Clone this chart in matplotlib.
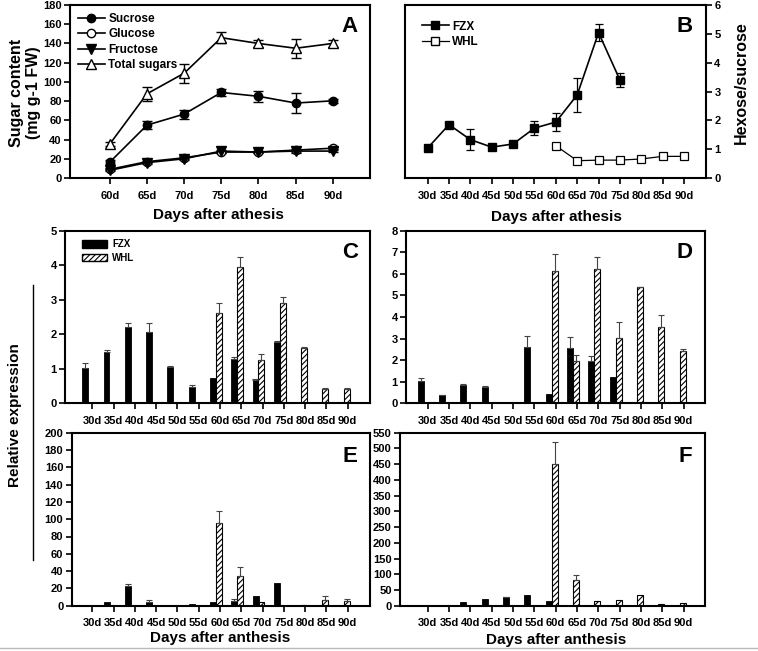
import matplotlib
matplotlib.use('Agg')
import matplotlib.pyplot as plt
import numpy as np
from matplotlib.lines import Line2D
from matplotlib.patches import Patch

plt.rcParams['font.family'] = ['Liberation Sans', 'DejaVu Sans']
plt.rcParams['font.weight'] = 'bold'
plt.rcParams['hatch.linewidth'] = 0.8

# ---------------- data ----------------
days_A = ['60d', '65d', '70d', '75d', '80d', '85d', '90d']
sucrose = [16.5, 55, 66.5, 89, 85, 78, 80.3]
sucrose_err = [2, 4, 4.7, 3.5, 6, 10, 2]
glucose = [9, 17, 21, 27, 27, 29, 31]
glucose_err = [1, 1, 1.5, 1.5, 1.5, 1.5, 1]
fructose = [8, 16, 20, 28, 27, 28, 28]
fructose_err = [1, 1, 1.5, 1.5, 1.5, 1.5, 1]
total = [35.3, 87.6, 109, 146, 140, 135, 140]
total_err = [2, 7, 10, 5.7, 3.8, 10, 3.5]

days = ['30d', '35d', '40d', '45d', '50d', '55d', '60d', '65d', '70d', '75d', '80d', '85d', '90d']
ratio_fzx = [1.04, 1.85, 1.33, 1.07, 1.18, 1.73, 1.94, 2.88, 5.04, 3.40]
ratio_fzx_err = [0.1, 0.05, 0.37, 0.04, 0.08, 0.23, 0.3, 0.59, 0.29, 0.23]
ratio_whl = [1.12, 0.60, 0.62, 0.62, 0.66, 0.75, 0.75]
ratio_whl_err = [0.05, 0.03, 0.03, 0.03, 0.03, 0.05, 0.03]

C_fzx = [1.03, 1.50, 2.20, 2.07, 1.05, 0.48, 0.74, 1.27, 0.67, 1.78, 0, 0, 0]
C_fzx_err = [0.15, 0.03, 0.12, 0.27, 0.02, 0.05, 0, 0.08, 0.03, 0.03, 0, 0, 0]
C_whl = [0, 0, 0, 0, 0, 0, 2.62, 3.95, 1.25, 2.92, 1.60, 0.42, 0.40]
C_whl_err = [0, 0, 0, 0, 0, 0, 0.3, 0.29, 0.17, 0.15, 0.02, 0.02, 0.05]

D_fzx = [1.05, 0.38, 0.86, 0.74, 0, 2.62, 0.43, 2.55, 1.98, 1.23, 0, 0, 0]
D_fzx_err = [0.1, 0.02, 0.03, 0.06, 0, 0.5, 0, 0.54, 0.22, 0, 0, 0, 0]
D_whl = [0, 0, 0, 0, 0, 0, 6.14, 1.97, 6.22, 3.03, 5.37, 3.54, 2.42]
D_whl_err = [0, 0, 0, 0, 0, 0, 0.8, 0.29, 0.55, 0.74, 0.02, 0.54, 0.1]

E_fzx = [1, 4.6, 23, 4.6, 0, 2, 4.5, 5.8, 10.8, 25.8, 0, 0, 0]
E_fzx_err = [0, 0, 2.3, 2.3, 0, 0, 0, 2, 0, 0, 0, 0, 0]
E_whl = [0, 0, 0, 0, 0, 0, 96, 34.3, 3.9, 0, 0.8, 6.5, 5.4]
E_whl_err = [0, 0, 0, 0, 0, 0, 14, 11, 0, 0, 0, 4.5, 2]

F_fzx = [0, 0, 10.6, 22, 26.5, 34, 13.8, 3, 0, 0, 0, 0, 0]
F_fzx_err = [0, 0, 0, 0, 2, 0, 0, 0, 0, 0, 0, 0, 0]
F_whl = [0, 0, 0, 0, 0, 0, 452, 80.5, 16, 18, 33, 6, 10]
F_whl_err = [0, 0, 0, 0, 0, 0, 69, 17, 0, 0, 0, 0, 0]

# ---------------- figure ----------------
W, H = 758, 651
fig = plt.figure(figsize=(W / 100, H / 100), dpi=100)


def ax_px(l, r, t, b):
    return fig.add_axes([l / W, 1 - b / H, (r - l) / W, (b - t) / H])


def style(ax):
    for s in ax.spines.values():
        s.set_linewidth(1.5)
    ax.tick_params(direction='out', length=4, width=1.2, labelsize=8, pad=2)


def ftext(x, y, s, **kw):
    fig.text(x / W, 1 - y / H, s, **kw)


# ---- Panel A ----
axA = ax_px(70, 370, 5, 178)
style(axA)
xa = np.arange(len(days_A))
ekw = dict(capsize=3.5, elinewidth=1.0, capthick=1.0, ecolor='black')
axA.errorbar(xa, total, yerr=total_err, color='black', lw=1.2, marker='^', ms=7,
             mfc='white', mec='black', mew=1.0, zorder=4, **ekw)
axA.errorbar(xa, sucrose, yerr=sucrose_err, color='black', lw=1.2, marker='o', ms=6,
             mfc='black', mec='black', zorder=3, **ekw)
axA.errorbar(xa, glucose, yerr=glucose_err, color='black', lw=1.2, marker='o', ms=6,
             mfc='white', mec='black', mew=1.0, zorder=3, **ekw)
axA.errorbar(xa, fructose, yerr=fructose_err, color='black', lw=1.2, marker='v', ms=6.5,
             mfc='black', mec='black', zorder=3, **ekw)
axA.set_xlim(-1.07, 7.0)
axA.set_ylim(0, 180)
axA.set_yticks(np.arange(0, 181, 20))
axA.set_xticks(xa)
axA.set_xticklabels(days_A)
axA.tick_params(axis='x', pad=5)
handlesA = [
    Line2D([], [], color='black', lw=1.2, marker='o', ms=6, mfc='black', mec='black'),
    Line2D([], [], color='black', lw=1.2, marker='o', ms=6, mfc='white', mec='black'),
    Line2D([], [], color='black', lw=1.2, marker='v', ms=6.5, mfc='black', mec='black'),
    Line2D([], [], color='black', lw=1.2, marker='^', ms=7, mfc='white', mec='black'),
]
axA.legend(handlesA, ['Sucrose', 'Glucose', 'Fructose', 'Total sugars'], loc='upper left',
           bbox_to_anchor=(0.025, 0.955), frameon=False, fontsize=8.5, borderpad=0,
           borderaxespad=0, labelspacing=0.3, handlelength=2.3, handletextpad=0.3)

# ---- Panel B ----
axB = ax_px(405, 706, 5, 178)
style(axB)
xb = np.arange(len(days))
ekwB = dict(capsize=3, elinewidth=0.9, capthick=0.9, ecolor='black')
axB.errorbar(xb[:len(ratio_fzx)], ratio_fzx, yerr=ratio_fzx_err, color='black', lw=1.2,
             marker='s', ms=6, mfc='black', mec='black', zorder=3, **ekwB)
axB.errorbar(xb[6:6 + len(ratio_whl)], ratio_whl, yerr=ratio_whl_err, color='black', lw=0.9,
             marker='s', ms=6, mfc='white', mec='black', mew=0.9, zorder=3, **ekwB)
axB.set_xlim(-1.06, 13.03)
axB.set_ylim(0, 6)
axB.yaxis.tick_right()
axB.yaxis.set_label_position('right')
axB.set_yticks(np.arange(0, 7, 1))
axB.set_xticks(xb)
axB.set_xticklabels(days)
axB.tick_params(axis='x', pad=5)
handlesB = [
    Line2D([], [], color='black', lw=1.2, marker='s', ms=6, mfc='black', mec='black'),
    Line2D([], [], color='black', lw=0.9, marker='s', ms=6, mfc='white', mec='black'),
]
axB.legend(handlesB, ['FZX', 'WHL'], loc='upper left', bbox_to_anchor=(0.055, 0.91),
           frameon=False, fontsize=8.5, borderpad=0, borderaxespad=0, labelspacing=0.3,
           handlelength=2.3, handletextpad=0.3)


# ---- bar panels ----
def bar_panel(ax, fzx, fzx_err, whl, whl_err, ymax, step, xlim):
    style(ax)
    x = np.arange(len(days))
    w = 0.28
    xf = x - 0.33
    xw = x - 0.05
    ax.bar(xf, fzx, width=w, color='black', edgecolor='black', linewidth=0.6, zorder=2)
    ax.bar(xw, whl, width=w, color='white', edgecolor='black', linewidth=0.8,
           hatch='//////', zorder=2)
    ekwb = dict(fmt='none', ecolor='#444444', elinewidth=0.8, capsize=2.5, capthick=0.8, zorder=3)
    fzx = np.array(fzx, float); fe = np.array(fzx_err, float)
    whl = np.array(whl, float); we = np.array(whl_err, float)
    m = fe > 0
    ax.errorbar(xf[m], fzx[m], yerr=[np.zeros(m.sum()), fe[m]], **ekwb)
    m = we > 0
    ax.errorbar(xw[m], whl[m], yerr=[np.zeros(m.sum()), we[m]], **ekwb)
    ax.set_xlim(*xlim)
    ax.set_ylim(0, ymax)
    ax.set_yticks(np.arange(0, ymax + step / 2, step))
    ax.set_xticks(x)
    ax.set_xticklabels(days)
    ax.tick_params(axis='x', pad=5)


axC = ax_px(65, 370, 230.7, 403.3)
bar_panel(axC, C_fzx, C_fzx_err, C_whl, C_whl_err, 5, 1, (-1.28, 13.05))
axC.legend([Patch(facecolor='black', edgecolor='black'),
            Patch(facecolor='white', edgecolor='black', hatch='//////')],
           ['FZX', 'WHL'], loc='upper left', bbox_to_anchor=(0.055, 0.95), frameon=False,
           fontsize=7, borderpad=0, borderaxespad=0, labelspacing=0.35,
           handlelength=2.6, handleheight=0.8, handletextpad=0.5)

axD = ax_px(406, 705, 230.7, 403.3)
bar_panel(axD, D_fzx, D_fzx_err, D_whl, D_whl_err, 8, 1, (-1.02, 13.0))

axE = ax_px(71.7, 370, 432.7, 605.7)
bar_panel(axE, E_fzx, E_fzx_err, E_whl, E_whl_err, 200, 20, (-0.97, 13.05))

axF = ax_px(400, 705, 432.7, 605.7)
bar_panel(axF, F_fzx, F_fzx_err, F_whl, F_whl_err, 550, 50, (-1.3, 13.0))

# ---- texts ----
for s, x, y in [('A', 350, 27), ('B', 685, 27), ('C', 350, 252), ('D', 685, 252),
                ('E', 350, 457), ('F', 685, 457)]:
    ftext(x, y, s, fontsize=16, fontweight='bold', ha='center', va='center')

ftext(218, 215, 'Days after athesis', fontsize=11, ha='center', va='center')
ftext(556, 217, 'Days after athesis', fontsize=11, ha='center', va='center')
ftext(220, 638, 'Days after anthesis', fontsize=11, ha='center', va='center')
ftext(556, 640, 'Days after anthesis', fontsize=11, ha='center', va='center')

ftext(25, 93, 'Sugar content\n(mg g-1 FW)', fontsize=11.5, rotation=90, ha='center',
      va='center', multialignment='center', linespacing=1.1)
ftext(741, 83, 'Hexose/sucrose', fontsize=11.5, rotation=90, ha='center', va='center')
ftext(15, 415, 'Relative expression', fontsize=11, rotation=90, ha='center', va='center')

fig.add_artist(Line2D([33 / W, 33 / W], [1 - 285 / H, 1 - 560 / H], color='black', lw=1.0))
fig.add_artist(Line2D([0, 1], [1 - 648 / H, 1 - 648 / H], color='#bbbbbb', lw=1.0))

fig.savefig('out.png', dpi=100)
